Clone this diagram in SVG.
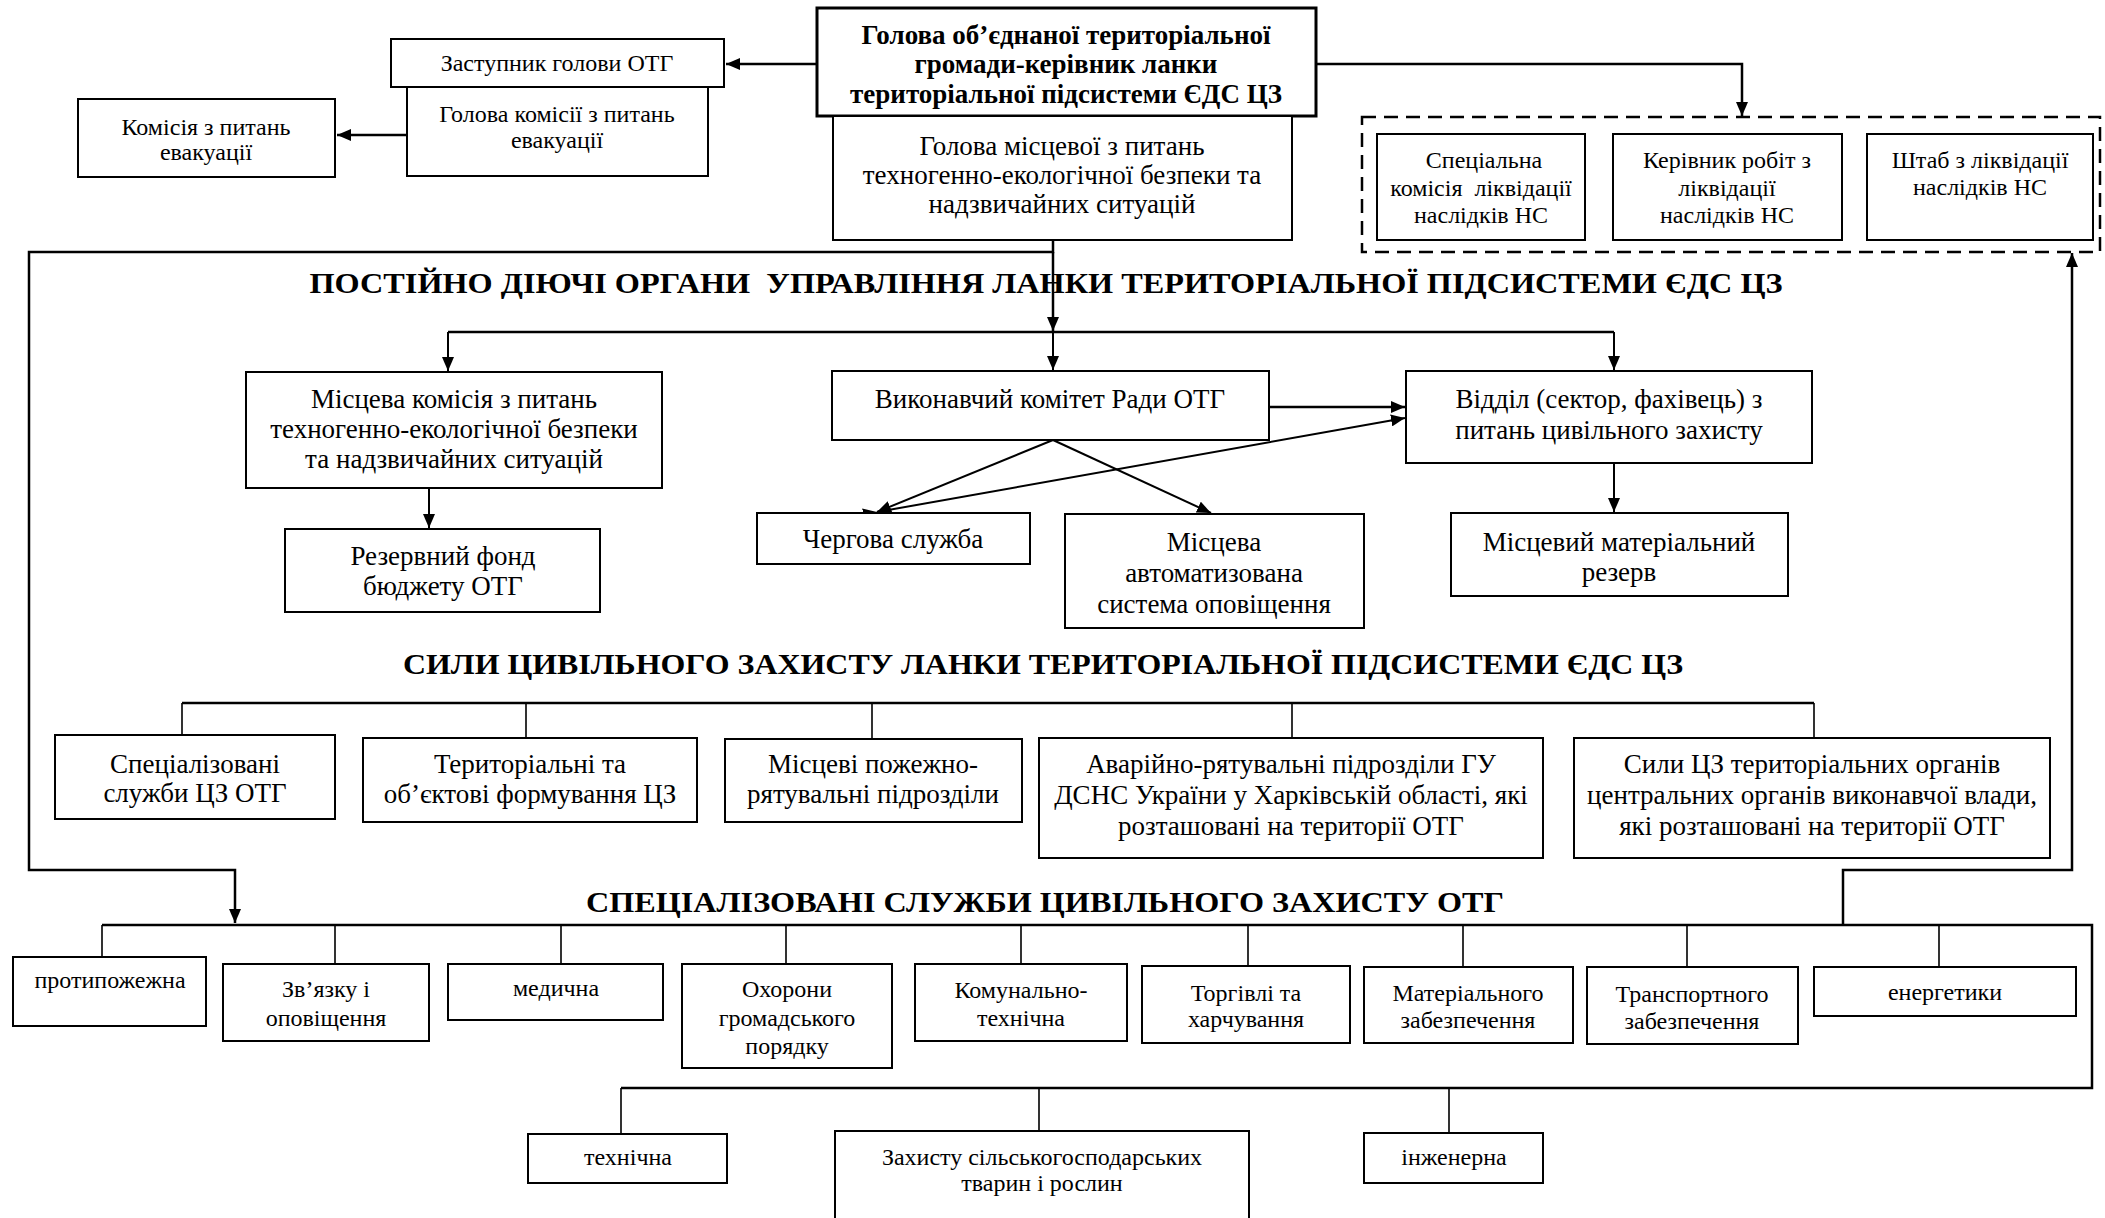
<svg xmlns="http://www.w3.org/2000/svg" width="2105" height="1218" viewBox="0 0 2105 1218">
<defs>
<style>
.b{fill:#fff;stroke:#000;stroke-width:2}
.bh{fill:#fff;stroke:#000;stroke-width:3}
.dash{fill:none;stroke:#000;stroke-width:2.5;stroke-dasharray:14 8}
.t{font-family:"Liberation Serif","Times New Roman",serif;font-size:24px;text-anchor:middle;fill:#000}
.t24{font-size:27px}
.t20{font-size:24px}
.hb{font-weight:bold;font-size:27px}
.ttl{font-family:"Liberation Serif","Times New Roman",serif;font-weight:bold;font-size:30px;text-anchor:middle;fill:#000}
.c{fill:none;stroke:#000;stroke-width:2.5}
.c2{fill:none;stroke:#000;stroke-width:2}
.tk{fill:none;stroke:#000;stroke-width:1.6}
</style>
<marker id="ar" viewBox="0 0 14 12" markerUnits="userSpaceOnUse" markerWidth="14" markerHeight="12" refX="14" refY="6" orient="auto"><path d="M0,0 L14,6 L0,12 Z" fill="#000"/></marker>
</defs>
<rect width="2105" height="1218" fill="#fff"/>

<g id="connectors">
<path class="c" d="M817,64 H726" marker-end="url(#ar)"/>
<path class="c" d="M1316,64 H1742 V116" marker-end="url(#ar)"/>
<path class="c" d="M407,135 H337" marker-end="url(#ar)"/>
<path class="c" d="M1053,240 V252 H29 V870 H235 V923" marker-end="url(#ar)"/>
<path class="c" d="M1053,252 V331" marker-end="url(#ar)"/>
<path class="c" d="M448,332 H1614"/>
<path class="c2" d="M448,332 V371" marker-end="url(#ar)"/>
<path class="c2" d="M1053,332 V370" marker-end="url(#ar)"/>
<path class="c2" d="M1614,332 V370" marker-end="url(#ar)"/>
<path class="c2" d="M429,488 V528" marker-end="url(#ar)"/>
<path class="c" d="M1269,407 H1405" marker-end="url(#ar)"/>
<path class="c2" d="M1053,440 L877,512" marker-end="url(#ar)"/>
<path class="c2" d="M1053,440 L1211,513" marker-end="url(#ar)"/>
<path class="c2" d="M877,512 L1405,418" marker-start="url(#ar)" marker-end="url(#ar)"/>
<path class="c2" d="M1614,463 V512" marker-end="url(#ar)"/>
<path class="c" d="M182,703 H1814"/>
<path class="tk" d="M182,703 V735 M526,703 V738 M872,703 V739 M1292,703 V738 M1814,703 V738"/>
<path class="c" d="M1843,925 V870 H2072 V253" marker-end="url(#ar)"/>
<path class="c" d="M102,925 H2092 V1088 H621"/>
<path class="tk" d="M102,925 V957 M335,925 V964 M561,925 V964 M786,925 V964 M1021,925 V964 M1248,925 V966 M1463,925 V967 M1687,925 V967 M1939,925 V967"/>
<path class="tk" d="M621,1088 V1134 M1039,1088 V1131 M1449,1088 V1133"/>
</g>

<g id="head"><rect class="bh" x="817" y="8" width="499" height="108"/>
<text class="t hb" x="1066" y="44">Голова об’єднаної територіальної</text>
<text class="t hb" x="1066" y="73">громади-керівник ланки</text>
<text class="t hb" x="1066" y="103">територіальної підсистеми ЄДС ЦЗ</text></g>

<g id="deputy"><rect class="b" x="391" y="39" width="333" height="48"/>
<text class="t" x="557" y="71">Заступник голови ОТГ</text></g>

<g id="evac-head"><rect class="b" x="407" y="87" width="301" height="89"/>
<text class="t" x="557" y="122">Голова комісії з питань</text>
<text class="t" x="557" y="148">евакуації</text></g>

<g id="evac-commission"><rect class="b" x="78" y="99" width="257" height="78"/>
<text class="t" x="206" y="135">Комісія з питань</text>
<text class="t" x="206" y="160">евакуації</text></g>

<g id="local-head"><rect class="b" x="833" y="116" width="459" height="124"/>
<text class="t t24" x="1062" y="155">Голова місцевої з питань</text>
<text class="t t24" x="1062" y="184">техногенно-екологічної безпеки та</text>
<text class="t t24" x="1062" y="213">надзвичайних ситуацій</text></g>

<g id="liquidation"><rect class="dash" x="1362" y="117" width="738" height="135"/>
<rect class="b" x="1377" y="134" width="208" height="106"/>
<text class="t t20" x="1484" y="168">Спеціальна</text>
<text class="t t20" x="1481" y="196" xml:space="preserve">комісія  ліквідації</text>
<text class="t t20" x="1481" y="223">наслідків НС</text>
<rect class="b" x="1613" y="134" width="229" height="106"/>
<text class="t t20" x="1727" y="168">Керівник робіт з</text>
<text class="t t20" x="1727" y="196">ліквідації</text>
<text class="t t20" x="1727" y="223">наслідків НС</text>
<rect class="b" x="1867" y="134" width="226" height="106"/>
<text class="t t20" x="1980" y="168">Штаб з ліквідації</text>
<text class="t t20" x="1980" y="195">наслідків НС</text></g>

<g id="title1"><text class="ttl" x="1046" y="293" textLength="1473" lengthAdjust="spacingAndGlyphs" xml:space="preserve">ПОСТІЙНО ДІЮЧІ ОРГАНИ  УПРАВЛІННЯ ЛАНКИ ТЕРИТОРІАЛЬНОЇ ПІДСИСТЕМИ ЄДС ЦЗ</text></g>

<g id="local-commission"><rect class="b" x="246" y="372" width="416" height="116"/>
<text class="t t24" x="454" y="408">Місцева комісія з питань</text>
<text class="t t24" x="454" y="438">техногенно-екологічної безпеки</text>
<text class="t t24" x="454" y="468">та надзвичайних ситуацій</text></g>

<g id="reserve-fund"><rect class="b" x="285" y="529" width="315" height="83"/>
<text class="t t24" x="443" y="565">Резервний фонд</text>
<text class="t t24" x="443" y="595">бюджету ОТГ</text></g>

<g id="executive"><rect class="b" x="832" y="371" width="437" height="69"/>
<text class="t t24" x="1050" y="408">Виконавчий комітет Ради ОТГ</text></g>

<g id="cz-department"><rect class="b" x="1406" y="371" width="406" height="92"/>
<text class="t t24" x="1609" y="408">Відділ (сектор, фахівець) з</text>
<text class="t t24" x="1609" y="439">питань цивільного захисту</text></g>

<g id="duty"><rect class="b" x="757" y="513" width="273" height="51"/>
<text class="t t24" x="893" y="548">Чергова служба</text></g>

<g id="alert-system"><rect class="b" x="1065" y="514" width="299" height="114"/>
<text class="t t24" x="1214" y="551">Місцева</text>
<text class="t t24" x="1214" y="582">автоматизована</text>
<text class="t t24" x="1214" y="613">система оповіщення</text></g>

<g id="material-reserve"><rect class="b" x="1451" y="513" width="337" height="83"/>
<text class="t t24" x="1619" y="551">Місцевий матеріальний</text>
<text class="t t24" x="1619" y="581">резерв</text></g>

<g id="title2"><text class="ttl" x="1043" y="674" textLength="1280" lengthAdjust="spacingAndGlyphs">СИЛИ ЦИВІЛЬНОГО ЗАХИСТУ ЛАНКИ ТЕРИТОРІАЛЬНОЇ ПІДСИСТЕМИ ЄДС ЦЗ</text></g>

<g id="f-special"><rect class="b" x="55" y="735" width="280" height="84"/>
<text class="t t24" x="195" y="773">Спеціалізовані</text>
<text class="t t24" x="195" y="802">служби ЦЗ ОТГ</text></g>

<g id="f-territorial"><rect class="b" x="363" y="738" width="334" height="84"/>
<text class="t t24" x="530" y="773">Територіальні та</text>
<text class="t t24" x="530" y="803">об’єктові формування ЦЗ</text></g>

<g id="f-fire"><rect class="b" x="725" y="739" width="297" height="83"/>
<text class="t t24" x="873" y="773">Місцеві пожежно-</text>
<text class="t t24" x="873" y="803">рятувальні підрозділи</text></g>

<g id="f-rescue"><rect class="b" x="1039" y="738" width="504" height="120"/>
<text class="t t24" x="1291" y="773">Аварійно-рятувальні підрозділи ГУ</text>
<text class="t t24" x="1291" y="804">ДСНС України у Харківській області, які</text>
<text class="t t24" x="1291" y="835">розташовані на території ОТГ</text></g>

<g id="f-central"><rect class="b" x="1574" y="738" width="476" height="120"/>
<text class="t t24" x="1812" y="773">Сили ЦЗ територіальних органів</text>
<text class="t t24" x="1812" y="804">центральних органів виконавчої влади,</text>
<text class="t t24" x="1812" y="835">які розташовані на території ОТГ</text></g>

<g id="title3"><text class="ttl" x="1045" y="912" textLength="918" lengthAdjust="spacingAndGlyphs">СПЕЦІАЛІЗОВАНІ СЛУЖБИ ЦИВІЛЬНОГО ЗАХИСТУ ОТГ</text></g>

<g id="s-fire"><rect class="b" x="13" y="957" width="193" height="69"/>
<text class="t" x="110" y="988">протипожежна</text></g>
<g id="s-comm"><rect class="b" x="223" y="964" width="206" height="77"/>
<text class="t" x="326" y="997">Зв’язку і</text>
<text class="t" x="326" y="1026">оповіщення</text></g>
<g id="s-med"><rect class="b" x="448" y="964" width="215" height="56"/>
<text class="t" x="556" y="996">медична</text></g>
<g id="s-order"><rect class="b" x="682" y="964" width="210" height="104"/>
<text class="t" x="787" y="997">Охорони</text>
<text class="t" x="787" y="1026">громадського</text>
<text class="t" x="787" y="1054">порядку</text></g>
<g id="s-utility"><rect class="b" x="915" y="964" width="212" height="77"/>
<text class="t" x="1021" y="998">Комунально-</text>
<text class="t" x="1021" y="1026">технічна</text></g>
<g id="s-trade"><rect class="b" x="1142" y="966" width="208" height="77"/>
<text class="t" x="1246" y="1001">Торгівлі та</text>
<text class="t" x="1246" y="1027">харчування</text></g>
<g id="s-material"><rect class="b" x="1364" y="967" width="209" height="76"/>
<text class="t" x="1468" y="1001">Матеріального</text>
<text class="t" x="1468" y="1028">забезпечення</text></g>
<g id="s-transport"><rect class="b" x="1587" y="967" width="211" height="77"/>
<text class="t" x="1692" y="1002">Транспортного</text>
<text class="t" x="1692" y="1029">забезпечення</text></g>
<g id="s-energy"><rect class="b" x="1814" y="967" width="262" height="49"/>
<text class="t" x="1945" y="1000">енергетики</text></g>
<g id="s-tech"><rect class="b" x="528" y="1134" width="199" height="49"/>
<text class="t" x="628" y="1165">технічна</text></g>
<g id="s-agro"><rect class="b" x="835" y="1131" width="414" height="100"/>
<text class="t" x="1042" y="1165">Захисту сільськогосподарських</text>
<text class="t" x="1042" y="1191">тварин і рослин</text></g>
<g id="s-eng"><rect class="b" x="1364" y="1133" width="179" height="50"/>
<text class="t" x="1454" y="1165">інженерна</text></g>
</svg>
